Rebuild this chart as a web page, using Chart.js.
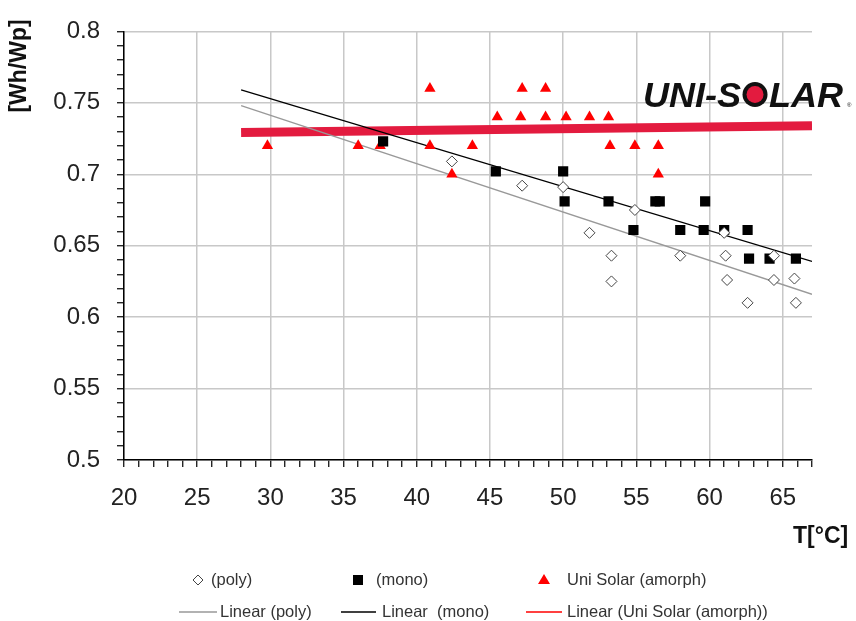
<!DOCTYPE html>
<html><head><meta charset="utf-8">
<script src="https://cdn.jsdelivr.net/npm/chart.js@4.4.1/dist/chart.umd.min.js"></script>
<style>html,body{margin:0;padding:0;background:#fff;}#wrap{width:856px;height:621px;position:relative}</style>
</head><body><div id="wrap"><canvas id="c" width="856" height="621"></canvas></div>
<script>
// ---- data ----
const xTickLabels = ['20','25','30','35','40','45','50','55','60','65'];
const yTickLabels = ['0.5','0.55','0.6','0.65','0.7','0.75','0.8'];

const polyT = [42.4, 47.2, 50.0, 51.8, 53.3, 53.3, 54.9, 58.0, 61.0, 61.1, 61.2, 62.6, 64.4, 64.4, 65.8, 65.9];
const polyY = [0.709, 0.692, 0.691, 0.659, 0.643, 0.625, 0.675, 0.643, 0.659, 0.643, 0.626, 0.610, 0.643, 0.626, 0.627, 0.610];

const monoT = [37.7, 45.4, 50.0, 50.1, 53.1, 56.3, 56.6, 59.7, 54.8, 58.0, 59.6, 61.0, 62.6, 62.7, 64.1, 65.9];
const monoY = [0.723, 0.702, 0.702, 0.681, 0.681, 0.681, 0.681, 0.681, 0.661, 0.661, 0.661, 0.661, 0.661, 0.641, 0.641, 0.641];

const amT = [29.8, 36.0, 37.5, 40.9, 40.9, 42.4, 43.8, 45.5, 47.2, 47.1, 48.8, 48.8, 50.2, 51.8, 53.1, 53.2, 54.9, 56.5, 56.5];
const amY = [0.72, 0.72, 0.72, 0.76, 0.72, 0.70, 0.72, 0.74, 0.76, 0.74, 0.76, 0.74, 0.74, 0.74, 0.74, 0.72, 0.72, 0.72, 0.70];

const trendT = [28, 67];
const polyTrend = [0.748, 0.616];
const monoTrend = [0.759, 0.639];
const amTrend = [0.7293, 0.734];

const legendLabels = ['(poly)', '(mono)', 'Uni Solar (amorph)', 'Linear (poly)', 'Linear  (mono)', 'Linear (Uni Solar (amorph))'];
const xTitle = 'T[°C]';
const yTitle = '[Wh/Wp]';

// ---- helpers ----
const pts = (xs, ys) => xs.map((x, i) => ({x, y: ys[i]}));
const FONT = '"Liberation Sans", Arial, sans-serif';

const overlay = {
  id: 'overlay',
  afterDraw(chart) {
    const ctx = chart.ctx;
    ctx.save();
    // y title
    ctx.fillStyle = '#111';
    ctx.font = 'bold 23px ' + FONT;
    ctx.textAlign = 'center'; ctx.textBaseline = 'middle';
    ctx.save(); ctx.translate(20, 66); ctx.rotate(-Math.PI / 2); ctx.fillText(yTitle, 0, 0); ctx.restore();
    // x title
    ctx.textAlign = 'left';
    ctx.fillText(xTitle, 793, 537);

    // legend
    ctx.font = '16.5px ' + FONT;
    ctx.textBaseline = 'middle';
    const r1 = 580, r2 = 612;
    // diamond
    ctx.strokeStyle = '#444'; ctx.lineWidth = 1;
    ctx.beginPath(); ctx.moveTo(198, r1 - 5); ctx.lineTo(203, r1); ctx.lineTo(198, r1 + 5); ctx.lineTo(193, r1); ctx.closePath();
    ctx.fillStyle = '#fff'; ctx.fill(); ctx.stroke();
    // square
    ctx.fillStyle = '#000'; ctx.fillRect(353, r1 - 5, 10, 10);
    // triangle
    ctx.fillStyle = '#ff0000';
    ctx.beginPath(); ctx.moveTo(544, r1 - 6); ctx.lineTo(550, r1 + 4); ctx.lineTo(538, r1 + 4); ctx.closePath(); ctx.fill();
    // lines
    ctx.lineWidth = 1.3;
    ctx.strokeStyle = '#999'; ctx.beginPath(); ctx.moveTo(179, r2); ctx.lineTo(217, r2); ctx.stroke();
    ctx.strokeStyle = '#000'; ctx.beginPath(); ctx.moveTo(341, r2); ctx.lineTo(376, r2); ctx.stroke();
    ctx.strokeStyle = '#ff0000'; ctx.beginPath(); ctx.moveTo(526, r2); ctx.lineTo(562, r2); ctx.stroke();
    ctx.fillStyle = '#333';
    ctx.fillText(legendLabels[0], 211, r1);
    ctx.fillText(legendLabels[1], 376, r1);
    ctx.fillText(legendLabels[2], 567, r1);
    ctx.fillText(legendLabels[3], 220, r2);
    ctx.fillText(legendLabels[4], 382, r2);
    ctx.fillText(legendLabels[5], 567, r2);

    // logo
    const lx = 643, lw = 206, base = 107;
    ctx.font = 'italic bold 35px ' + FONT;
    ctx.textBaseline = 'alphabetic';
    const w1 = ctx.measureText('UNI-S').width, w2 = ctx.measureText('LAR').width, wO = 27;
    const sx = (lw - 6) / (w1 + wO + w2);
    ctx.save();
    ctx.translate(lx, base); ctx.scale(sx, 1);
    ctx.fillStyle = '#111';
    ctx.fillText('UNI-S', 0, 0);
    ctx.fillText('LAR', w1 + wO, 0);
    ctx.restore();
    const ox = lx + (w1 + wO / 2) * sx, oy = base - 12.5;
    ctx.fillStyle = '#111'; ctx.beginPath(); ctx.arc(ox, oy, 12.5, 0, Math.PI * 2); ctx.fill();
    ctx.fillStyle = '#e31b3f'; ctx.beginPath(); ctx.arc(ox, oy, 8.5, 0, Math.PI * 2); ctx.fill();
    ctx.fillStyle = '#111'; ctx.font = '6px ' + FONT;
    ctx.fillText('®', lx + lw - 2, base);
    ctx.restore();
  }
};

const isMajorX = v => Math.abs(v / 5 - Math.round(v / 5)) < 1e-6;
const isMajorY = v => Math.abs(v * 20 - Math.round(v * 20)) < 1e-6;

new Chart(document.getElementById('c'), {
  type: 'scatter',
  data: {
    datasets: [
      { label: legendLabels[0], data: pts(polyT, polyY), pointStyle: 'rectRot', pointRadius: 5.5, pointBackgroundColor: '#fff', pointBorderColor: '#444', pointBorderWidth: 1, order: 1 },
      { label: legendLabels[1], data: pts(monoT, monoY), pointStyle: 'rect', pointRadius: 7.2, pointBackgroundColor: '#000', pointBorderColor: '#000', pointBorderWidth: 0, order: 2 },
      { label: legendLabels[2], data: pts(amT, amY), pointStyle: 'triangle', pointRadius: 6.5, pointBackgroundColor: '#ff0000', pointBorderColor: '#ff0000', pointBorderWidth: 0, order: 3 },
      { label: legendLabels[3], data: pts(trendT, polyTrend), showLine: true, borderColor: '#999', borderWidth: 1.3, pointRadius: 0, order: 4 },
      { label: legendLabels[4], data: pts(trendT, monoTrend), showLine: true, borderColor: '#000', borderWidth: 1.3, pointRadius: 0, order: 5 },
      { label: legendLabels[5], data: pts(trendT, amTrend), showLine: true, borderColor: '#e31b3f', borderWidth: 9, borderCapStyle: 'butt', pointRadius: 0, order: 10 }
    ]
  },
  options: {
    responsive: false, animation: false, devicePixelRatio: 1,
    layout: { padding: { left: 0, right: 44, top: 19, bottom: 101 } },
    plugins: { legend: { display: false }, tooltip: { enabled: false } },
    scales: {
      x: {
        type: 'linear', min: 20, max: 67,
        afterFit: s => { s.height = 60; },
        afterBuildTicks: s => { const t = []; for (let v = 20; v <= 67; v++) t.push({ value: v }); s.ticks = t; },
        ticks: { autoSkip: false, maxRotation: 0, padding: 17, color: '#222', font: { family: FONT, size: 24 },
          callback: v => { const s = String(v); return xTickLabels.includes(s) ? s : ''; } },
        grid: { color: c => (c.tick && isMajorX(c.tick.value)) ? '#c8c8c8' : 'rgba(0,0,0,0)', lineWidth: 1.5, tickColor: '#000', tickLength: 7, tickWidth: 1.2 },
        border: { color: '#000', width: 1.5 }
      },
      y: {
        type: 'linear', min: 0.5, max: 0.8,
        afterFit: s => { s.width = 124; },
        afterBuildTicks: s => { const t = []; for (let i = 0; i <= 30; i++) t.push({ value: +(0.5 + i * 0.01).toFixed(2) }); s.ticks = t; },
        ticks: { autoSkip: false, padding: 17, color: '#222', font: { family: FONT, size: 24 },
          callback: v => { const s = String(+(+v).toFixed(2)); return yTickLabels.includes(s) ? s : ''; } },
        grid: { color: c => (c.tick && isMajorY(c.tick.value)) ? '#c8c8c8' : 'rgba(0,0,0,0)', lineWidth: 1.5, tickColor: '#000', tickLength: 7, tickWidth: 1.2 },
        border: { color: '#000', width: 1.5 }
      }
    }
  },
  plugins: [overlay]
});
</script>
</body></html>
